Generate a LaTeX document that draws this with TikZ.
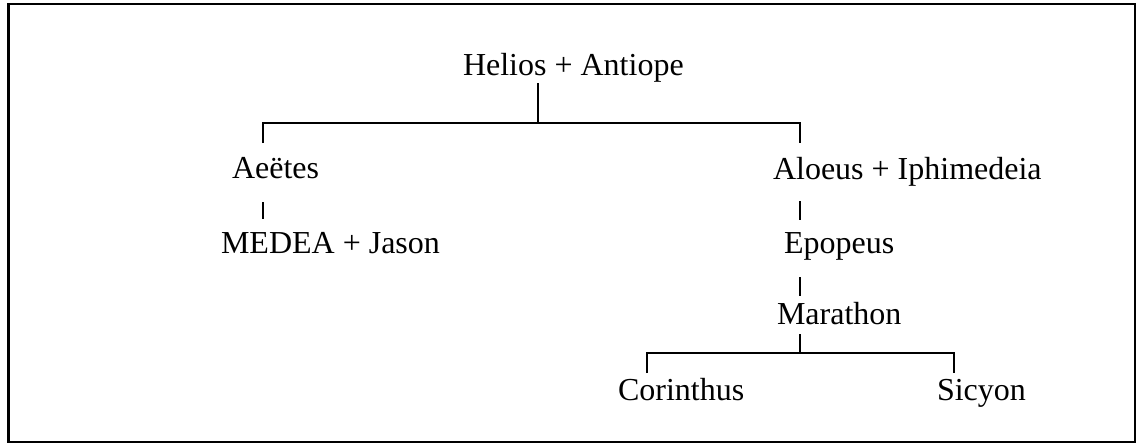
\documentclass[tikz,border=0pt]{standalone}
\usepackage{fontspec}
\setmainfont{Liberation Serif}
\begin{document}
\begin{tikzpicture}[x=1pt,y=-1pt,
  person/.style={anchor=base west,inner sep=0pt,outer sep=0pt,font=\fontsize{32}{38}\selectfont},
  tieline/.style={line width=1.7pt},
  frameline/.style={line width=2.6pt}]
\useasboundingbox (0,0) rectangle (1139,445);
\draw[frameline] (8.5,4) rectangle (1135,442);
% people
\node[person] (helios) at (463,75) {Helios + Antiope};
\node[person] (aeetes) at (232,178) {Aeëtes};
\node[person] (medea) at (221,253) {MEDEA + Jason};
\node[person] (aloeus) at (773,179) {Aloeus + Iphimedeia};
\node[person] (epopeus) at (784,253) {Epopeus};
\node[person] (marathon) at (777,324) {Marathon};
\node[person] (corinthus) at (618,400) {Corinthus};
\node[person] (sicyon) at (937,400) {Sicyon};
% junction coordinates
\coordinate (h1) at (538,83);
\coordinate (h2) at (538,123);
\coordinate (hl) at (263,123);
\coordinate (hr) at (800,123);
\coordinate (hlb) at (263,143);
\coordinate (hrb) at (800,143);
\coordinate (a1) at (263,202);
\coordinate (a2) at (263,219);
\coordinate (b1) at (800,201);
\coordinate (b2) at (800,220);
\coordinate (e1) at (800,277);
\coordinate (e2) at (800,296);
\coordinate (m1) at (800,334);
\coordinate (m2) at (800,353);
\coordinate (ml) at (647,353);
\coordinate (mr) at (954,353);
\coordinate (mlb) at (647,373);
\coordinate (mrb) at (954,373);
% connectors
\draw[tieline] (h1) -- (h2);
\draw[tieline] (hlb) -- (hl) -- (hr) -- (hrb);
\draw[tieline] (a1) -- (a2);
\draw[tieline] (b1) -- (b2);
\draw[tieline] (e1) -- (e2);
\draw[tieline] (m1) -- (m2);
\draw[tieline] (mlb) -- (ml) -- (mr) -- (mrb);
\end{tikzpicture}
\end{document}
